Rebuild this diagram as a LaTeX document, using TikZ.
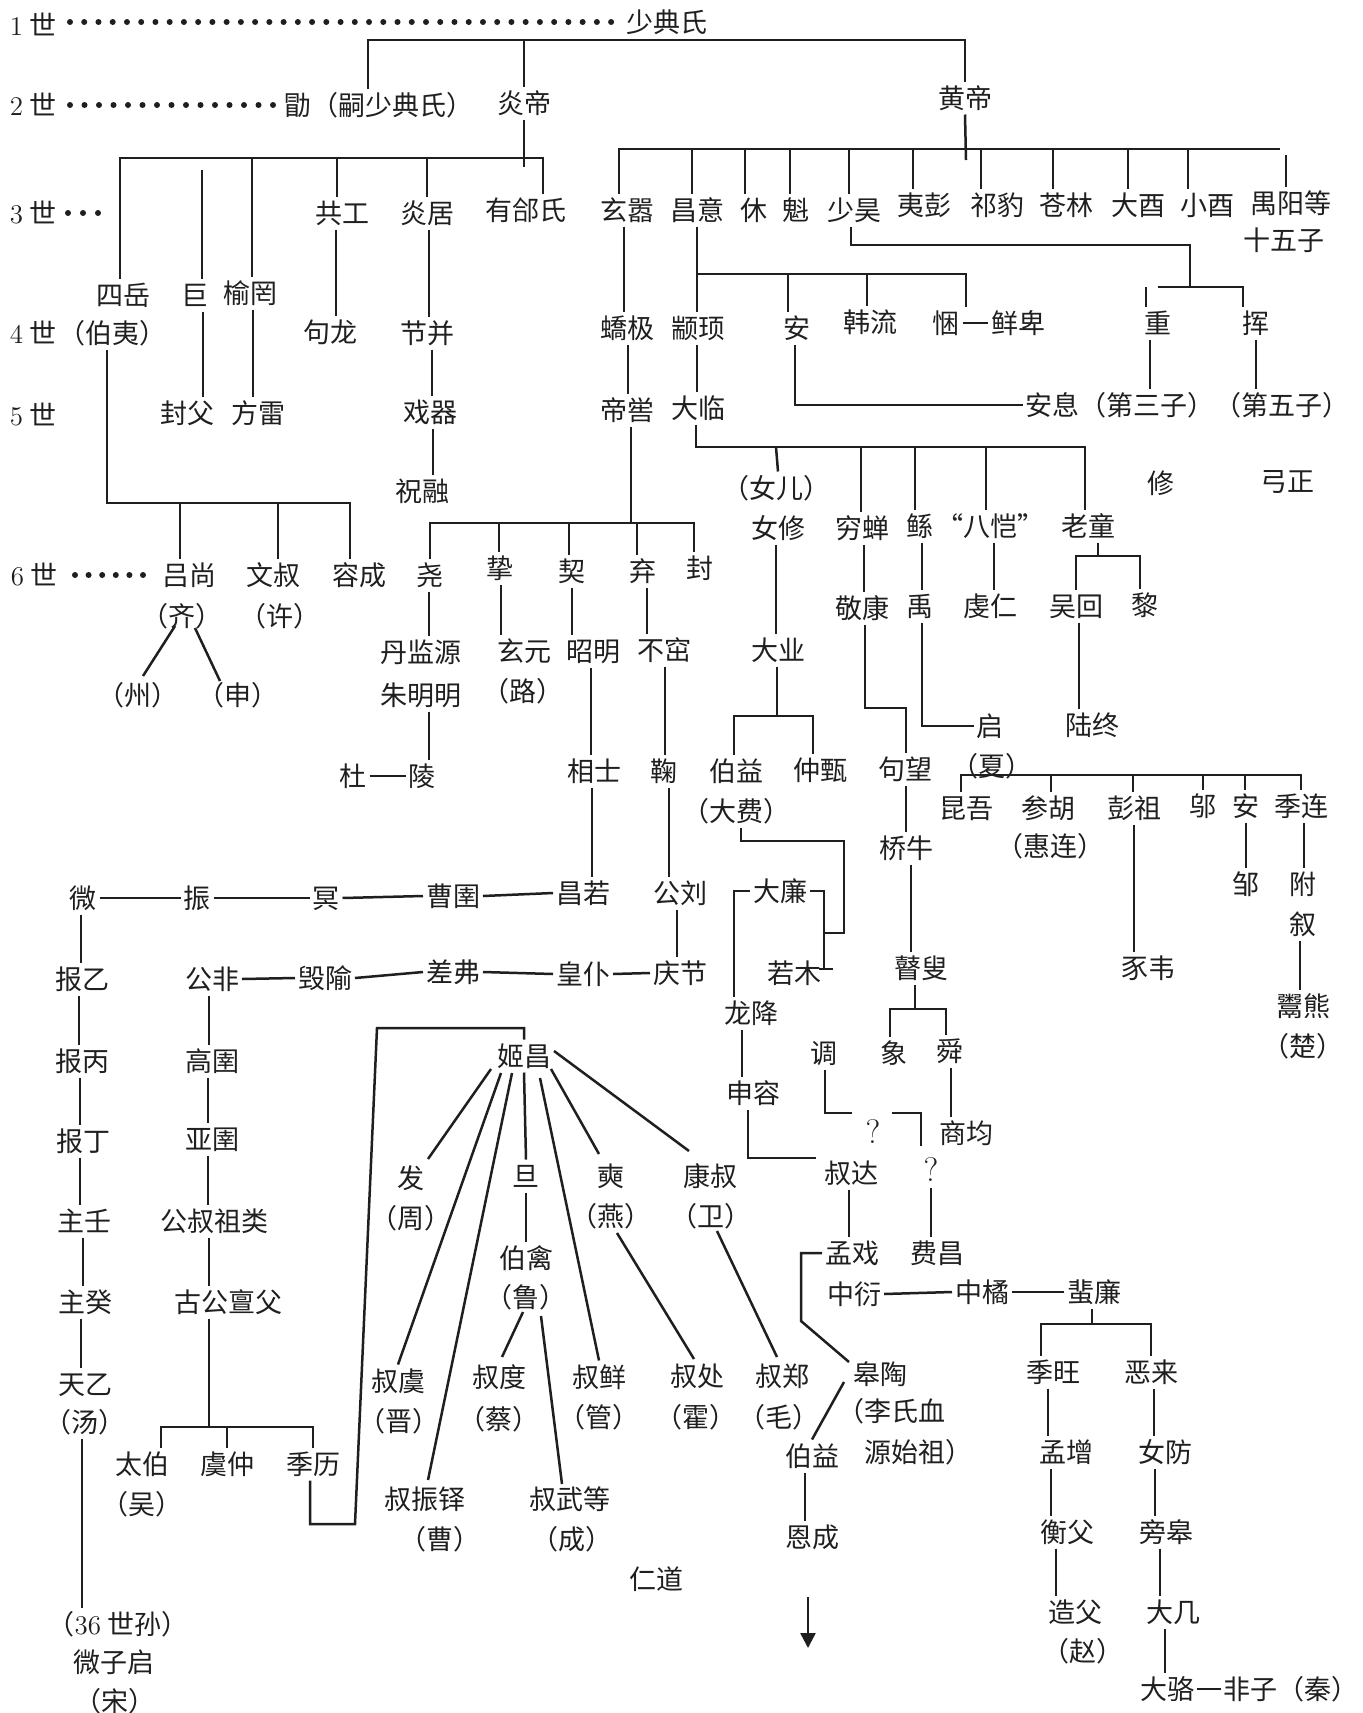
\documentclass[tikz,border=0pt]{standalone}
\usepackage{fontspec}
\newfontfamily\cjk{Noto Sans CJK SC}
\usetikzlibrary{calc,arrows.meta}
\newcommand\vv[3]{\draw (#1.south -| #3,0) -- (#2.north -| #3,0);}
\newcommand\hh[2]{\draw (#1.east) -- (#2.west);}
\newcommand\tk[3]{\draw (#2,#3) -- (#1.north -| #2,0);}
\begin{document}
\begin{tikzpicture}[x=0.5pt,y=-0.5pt,line width=1.25pt,color=black!88,
  nd/.style={inner sep=0pt,outer sep=1.5pt,font=\cjk\fontsize{13.5}{15}\selectfont,text height=11.9pt,text depth=1.6pt}]
\fill[white] (0,0) rectangle (1363,1713);
\useasboundingbox (0,0) rectangle (1363,1713);
% generation labels
\node[nd] (g1) at (33,25) {\textrm{1} 世};
\node[nd] (g2) at (33,105) {\textrm{2} 世};
\node[nd] (g3) at (33,213) {\textrm{3} 世};
\node[nd] (g4) at (33,333) {\textrm{4} 世};
\node[nd] (g5) at (33,415) {\textrm{5} 世};
\node[nd] (g6) at (34,575) {\textrm{6} 世};
\foreach \i in {0,...,38} \fill (70+\i*14.24,22) circle[radius=1.5pt];
\foreach \i in {0,...,14} \fill (70+\i*14.5,105) circle[radius=1.5pt];
\foreach \i in {0,1,2} \fill (68+\i*15,213) circle[radius=1.5pt];
\foreach \i in {0,...,5} \fill (75+\i*13.6,575) circle[radius=1.5pt];
% nodes
\node[nd] (boyi) at (112,333) {（伯夷）};
\node[nd] (shaodian) at (667,22) {少典氏};
\node[nd] (xu) at (379,105) {勖（嗣少典氏）};
\node[nd] (yandi) at (524,103) {炎帝};
\node[nd] (huangdi) at (965,98) {黄帝};
\node[nd] (siyue) at (123,295) {四岳};
\node[nd] (ju) at (195,295) {巨};
\node[nd] (yuwang) at (250,293) {榆罔};
\node[nd] (gonggong) at (342,213) {共工};
\node[nd] (yanju) at (427,213) {炎居};
\node[nd] (youtai) at (526,210) {有郃氏};
\node[nd] (goulong) at (330,332) {句龙};
\node[nd] (jiebing) at (427,333) {节并};
\node[nd] (fengfu) at (187,413) {封父};
\node[nd] (fanglei) at (258,413) {方雷};
\node[nd] (xiqi) at (430,412) {戏器};
\node[nd] (zhurong) at (422,491) {祝融};
\node[nd] (xuanxiao) at (627,210) {玄嚣};
\node[nd] (changyi) at (697,210) {昌意};
\node[nd] (xiuA) at (754,210) {休};
\node[nd] (kui) at (796,210) {魁};
\node[nd] (shaohao) at (854,210) {少昊};
\node[nd] (yipeng) at (924,205) {夷彭};
\node[nd] (qibao) at (997,205) {祁豹};
\node[nd] (canglin) at (1066,205) {苍林};
\node[nd] (dayou) at (1138,205) {大酉};
\node[nd] (xiaoyou) at (1207,205) {小酉};
\node[nd] (yuyang) at (1291,203) {禺阳等};
\node[nd] (shiwuzi) at (1284,240) {十五子};
\node[nd] (jiaoji) at (627,328) {蟜极};
\node[nd] (zhuanxu) at (698,328) {颛顼};
\node[nd] (anA) at (797,328) {安};
\node[nd] (hanliu) at (870,322) {韩流};
\node[nd] (kun) at (946,323) {悃};
\node[nd] (xianbei) at (1018,323) {鲜卑};
\node[nd] (zhong) at (1158,323) {重};
\node[nd] (hui) at (1256,323) {挥};
\node[nd] (diku) at (627,410) {帝喾};
\node[nd] (dalin) at (698,408) {大临};
\node[nd] (anxi) at (1120,405) {安息（第三子）};
\node[nd] (diwuzi) at (1282,405) {（第五子）};
\node[nd] (xiuB) at (1161,483) {修};
\node[nd] (gongzheng) at (1287,481) {弓正};
\node[nd] (nuer) at (776,488) {（女儿）};
\node[nd] (nvxiu) at (778,528) {女修};
\node[nd] (qiongchan) at (862,528) {穷蝉};
\node[nd] (gun) at (920,526) {鲧};
\node[nd] (bakai) at (990,526) {“八恺”};
\node[nd] (laotong) at (1088,526) {老童};
\node[nd] (lushang) at (189,575) {吕尚};
\node[nd] (wenshu) at (273,575) {文叔};
\node[nd] (rongcheng) at (359,575) {容成};
\node[nd] (yao) at (430,575) {尧};
\node[nd] (zhi) at (500,568) {挚};
\node[nd] (qiA) at (572,571) {契};
\node[nd] (qiB) at (643,571) {弃};
\node[nd] (feng) at (700,568) {封};
\node[nd] (qiparen) at (182,616) {（齐）};
\node[nd] (xuparen) at (280,616) {（许）};
\node[nd] (zhou) at (138,695) {（州）};
\node[nd] (shen) at (238,695) {（申）};
\node[nd] (danjianyuan) at (421,652) {丹监源};
\node[nd] (zhumingming) at (421,695) {朱明明};
\node[nd] (du) at (353,776) {杜};
\node[nd] (ling) at (422,776) {陵};
\node[nd] (xuanyuan) at (524,651) {玄元};
\node[nd] (luA) at (523,691) {（路）};
\node[nd] (zhaoming) at (593,651) {昭明};
\node[nd] (buzhu) at (664,650) {不窋};
\node[nd] (xiangshi) at (594,771) {相士};
\node[nd] (juB) at (664,771) {鞠};
\node[nd] (daye) at (778,650) {大业};
\node[nd] (jingkang) at (862,608) {敬康};
\node[nd] (yu) at (920,606) {禹};
\node[nd] (qianren) at (990,606) {虔仁};
\node[nd] (wuhui) at (1076,606) {吴回};
\node[nd] (li) at (1145,605) {黎};
\node[nd] (luzhong) at (1092,725) {陆终};
\node[nd] (qiC) at (990,726) {启};
\node[nd] (xia) at (992,766) {（夏）};
\node[nd] (boyiB) at (736,771) {伯益};
\node[nd] (dafei) at (736,811) {（大费）};
\node[nd] (zhongzhen) at (820,770) {仲甄};
\node[nd] (gouwang) at (905,769) {句望};
\node[nd] (kunwu) at (966,808) {昆吾};
\node[nd] (canhu) at (1048,808) {参胡};
\node[nd] (huilian) at (1050,846) {（惠连）};
\node[nd] (pengzu) at (1134,808) {彭祖};
\node[nd] (wu) at (1203,806) {邬};
\node[nd] (anB) at (1246,806) {安};
\node[nd] (jilian) at (1301,806) {季连};
\node[nd] (qiaoniu) at (906,848) {桥牛};
\node[nd] (zou) at (1246,884) {邹};
\node[nd] (fu) at (1303,884) {附};
\node[nd] (xuB) at (1303,924) {叙};
\node[nd] (shiwei) at (1148,968) {豕韦};
\node[nd] (yuxiong) at (1303,1006) {鬻熊};
\node[nd] (chu) at (1303,1046) {（楚）};
\node[nd] (gusou) at (921,968) {瞽叟};
\node[nd] (xiang) at (894,1053) {象};
\node[nd] (shun) at (950,1051) {舜};
\node[nd] (diao) at (824,1053) {调};
\node[nd] (shangjun) at (966,1133) {商均};
\node[nd] (qA) at (873,1133) {\textrm{\fontsize{17}{17}\selectfont ?}};
\node[nd] (qB) at (931,1171) {\textrm{\fontsize{17}{17}\selectfont ?}};
\node[nd] (feichang) at (937,1253) {费昌};
\node[nd] (changruo) at (583,893) {昌若};
\node[nd] (gongliu) at (680,893) {公刘};
\node[nd] (qingjie) at (680,973) {庆节};
\node[nd] (dalian) at (780,891) {大廉};
\node[nd] (ruomu) at (794,973) {若木};
\node[nd] (longjiang) at (751,1013) {龙降};
\node[nd] (shenrong) at (753,1093) {申容};
\node[nd] (shuda) at (851,1173) {叔达};
\node[nd] (mengxi) at (852,1253) {孟戏};
\node[nd] (zhongyan) at (854,1294) {中衍};
\node[nd] (zhongju) at (982,1292) {中橘};
\node[nd] (feilian) at (1094,1292) {蜚廉};
\node[nd] (gaotao) at (880,1374) {皋陶};
\node[nd] (lishi) at (891,1411) {（李氏血};
\node[nd] (yuanshizu) at (918,1452) {源始祖）};
\node[nd] (boyiC) at (812,1456) {伯益};
\node[nd] (encheng) at (812,1537) {恩成};
\node[nd] (rendao) at (656,1579) {仁道};
\node[nd] (jiwang) at (1053,1372) {季旺};
\node[nd] (elai) at (1151,1372) {恶来};
\node[nd] (mengzeng) at (1066,1452) {孟增};
\node[nd] (nvfang) at (1165,1452) {女防};
\node[nd] (hengfu) at (1067,1532) {衡父};
\node[nd] (panggao) at (1166,1532) {旁皋};
\node[nd] (zaofu) at (1075,1612) {造父};
\node[nd] (zhao) at (1083,1651) {（赵）};
\node[nd] (daji) at (1173,1612) {大几};
\node[nd] (daluo) at (1167,1689) {大骆};
\node[nd] (feizi) at (1291,1689) {非子（秦）};
\node[nd] (wei) at (83,898) {微};
\node[nd] (zhen) at (197,898) {振};
\node[nd] (ming) at (326,898) {冥};
\node[nd] (caoyu) at (453,896) {曹圉};
\node[nd] (baoyi) at (82,979) {报乙};
\node[nd] (baobing) at (82,1061) {报丙};
\node[nd] (baoding) at (83,1141) {报丁};
\node[nd] (zhuren) at (84,1221) {主壬};
\node[nd] (zhugui) at (85,1302) {主癸};
\node[nd] (tianyi) at (85,1384) {天乙};
\node[nd] (tang) at (85,1422) {（汤）};
\node[nd] (sunshi) at (118,1624) {（\textrm{36} 世孙）};
\node[nd] (weiziqi) at (114,1662) {微子启};
\node[nd] (song) at (115,1701) {（宋）};
\node[nd] (gongfei) at (212,979) {公非};
\node[nd] (huiyu) at (325,978) {毁隃};
\node[nd] (chafu) at (453,972) {差弗};
\node[nd] (huangpu) at (583,974) {皇仆};
\node[nd] (gaoyu) at (212,1061) {高圉};
\node[nd] (yayu) at (212,1139) {亚圉};
\node[nd] (gongshu) at (214,1221) {公叔祖类};
\node[nd] (gugong) at (228,1302) {古公亶父};
\node[nd] (taibo) at (142,1464) {太伯};
\node[nd] (wuB) at (142,1504) {（吴）};
\node[nd] (yuzhong) at (227,1464) {虞仲};
\node[nd] (jili) at (313,1464) {季历};
\node[nd] (jichang) at (524,1056) {姬昌};
\node[nd] (fa) at (411,1178) {发};
\node[nd] (zhouB) at (411,1218) {（周）};
\node[nd] (dan) at (526,1176) {旦};
\node[nd] (shi) at (611,1176) {奭};
\node[nd] (yan) at (611,1216) {（燕）};
\node[nd] (kangshu) at (710,1176) {康叔};
\node[nd] (weiB) at (711,1216) {（卫）};
\node[nd] (boqin) at (526,1258) {伯禽};
\node[nd] (luB) at (526,1297) {（鲁）};
\node[nd] (shuyu) at (398,1381) {叔虞};
\node[nd] (jin) at (399,1421) {（晋）};
\node[nd] (shuzhenduo) at (425,1499) {叔振铎};
\node[nd] (cao) at (440,1539) {（曹）};
\node[nd] (shudu) at (499,1377) {叔度};
\node[nd] (cai) at (499,1419) {（蔡）};
\node[nd] (shuxian) at (599,1377) {叔鲜};
\node[nd] (guan) at (599,1417) {（管）};
\node[nd] (shuchu) at (697,1376) {叔处};
\node[nd] (huo) at (696,1417) {（霍）};
\node[nd] (shuzheng) at (782,1376) {叔郑};
\node[nd] (mao) at (779,1417) {（毛）};
\node[nd] (shuwu) at (570,1499) {叔武等};
\node[nd] (cheng) at (572,1539) {（成）};
% top brackets
\draw (xu.north -| 368,0) -- (368,40) -- (965,40) -- (huangdi.north);
\draw (shaodian.south) -- (shaodian.south |- 0,40);
\draw (yandi.north) -- (yandi.north |- 0,40);
% Yandi
\draw (yandi.south) -- (524,167);
\draw (siyue.north -| 120,0) -- (120,158) -- (543,158) -- (youtai.north -| 543,0);
\tk{yuwang}{252}{158}
\tk{gonggong}{337}{158}
\tk{yanju}{427}{158}
\draw (202,170) -- (ju.north -| 202,0);
% Huangdi
\draw (huangdi.south) -- (966,160);
\draw (xuanxiao.north -| 619,0) -- (619,149) -- (1280,149);
\tk{changyi}{692}{149}
\tk{xiuA}{745}{149}
\tk{kui}{790}{149}
\tk{shaohao}{849}{149}
\tk{yipeng}{913}{149}
\tk{qibao}{981}{149}
\tk{canglin}{1053}{149}
\tk{dayou}{1128}{149}
\tk{xiaoyou}{1188}{149}
\draw (1286,155) -- (yuyang.north -| 1286,0);
% Shaohao
\draw (shaohao.south -| 851,0) -- (851,245) -- (1190,245) -- (1190,287);
\draw (1158,287) -- (1243,287) -- (hui.north -| 1243,0);
\draw (1146,287) -- (zhong.north -| 1146,0);
% Changyi
\draw (697,274) -- (966,274) -- (kun.north -| 966,0);
\tk{anA}{788}{274}
\tk{hanliu}{867}{274}
\draw (anA.south -| 795,0) -- (795,405) -- (anxi.west);
\hh{kun}{xianbei}
% verticals
\vv{gonggong}{goulong}{336}
\vv{yanju}{jiebing}{429}
\vv{jiebing}{xiqi}{432}
\vv{xiqi}{zhurong}{433}
\vv{ju}{fengfu}{203}
\vv{yuwang}{fanglei}{253}
\vv{xuanxiao}{jiaoji}{624}
\vv{jiaoji}{diku}{628}
\vv{changyi}{zhuanxu}{697}
\vv{zhuanxu}{dalin}{697}
\vv{zhong}{anxi}{1150}
\vv{hui}{diwuzi}{1256}
% Dalin
\draw (dalin.south -| 696,0) -- (696,447) -- (1085,447) -- (laotong.north -| 1085,0);
\draw (776,447) -- (nuer.north -| 778,0);
\tk{qiongchan}{861}{447}
\tk{gun}{915}{447}
\tk{bakai}{986}{447}
% Diku
\draw (diku.south -| 631,0) -- (631,523);
\draw (yao.north -| 430,0) -- (430,523) -- (694,523) -- (feng.north -| 694,0);
\tk{zhi}{499}{523}
\tk{qiA}{569}{523}
\tk{qiB}{637}{523}
% Siyue
\draw (boyi.south -| 107,0) -- (107,503) -- (350,503) -- (rongcheng.north -| 350,0);
\tk{lushang}{180}{503}
\tk{wenshu}{278}{503}
\draw ($(qiparen)+(-7,10)$) -- ($(zhou)+(5,-19)$);
\draw ($(qiparen)+(13,12)$) -- ($(shen)+(-18,-14)$);
% Ku's line
\vv{yao}{danjianyuan}{429}
\vv{zhumingming}{ling}{429}
\hh{du}{ling}
\vv{zhi}{xuanyuan}{501}
\vv{qiA}{zhaoming}{572}
\vv{zhaoming}{xiangshi}{591}
\vv{qiB}{buzhu}{647}
\vv{buzhu}{juB}{665}
\vv{juB}{gongliu}{669}
\vv{xiangshi}{changruo}{592}
\vv{gongliu}{qingjie}{677}
% Nvxiu line
\vv{nvxiu}{daye}{776}
\draw (daye.south -| 777,0) -- (777,716);
\draw (boyiB.north -| 734,0) -- (734,716) -- (813,716) -- (zhongzhen.north -| 813,0);
\draw (dafei.south -| 741,0) -- (741,841) -- (844,841) -- (844,933) -- (824,933);
\draw (dalian.east) -- (dalian.east -| 824,0) -- (824,969);
\draw ($(ruomu.east)+(-5,-4)$) -- ++(14,0);
\draw (dalian.west) -- (dalian.west -| 734,0) -- (longjiang.north -| 734,0);
\vv{longjiang}{shenrong}{742}
\draw (shenrong.south -| 748,0) -- (748,1158) -- (816,1158);
\vv{shuda}{mengxi}{849}
\draw (mengxi.west) -- (mengxi.west -| 801,0) -- (801,1321) -- ($(gaotao)+(-31,-12)$);
\hh{zhongyan}{zhongju}
\hh{zhongju}{feilian}
\draw ($(gaotao)+(-36,8)$) -- (boyiC.north);
\vv{boyiC}{encheng}{805}
\coordinate (arrs) at (808,1597);
\coordinate (arre) at (808,1648);
\draw[-{Triangle[length=7.5pt,width=7.5pt]}] (arrs) -- (arre);
% Feilian
\draw (feilian.south -| 1092,0) -- (1092,1324);
\draw (jiwang.north -| 1041,0) -- (1041,1324) -- (1151,1324) -- (elai.north -| 1151,0);
\vv{jiwang}{mengzeng}{1048}
\vv{elai}{nvfang}{1154}
\vv{mengzeng}{hengfu}{1051}
\vv{nvfang}{panggao}{1155}
\vv{hengfu}{zaofu}{1056}
\vv{panggao}{daji}{1160}
\vv{daji}{daluo}{1165}
\hh{daluo}{feizi}
% Qiongchan line
\vv{qiongchan}{jingkang}{864}
\draw (jingkang.south -| 865,0) -- (865,708) -- (906,708) -- (gouwang.north -| 906,0);
\vv{gun}{yu}{922}
\draw (yu.south -| 922,0) -- (qiC.west -| 922,0) -- (qiC.west);
\vv{bakai}{qianren}{994}
\draw (laotong.south -| 1098,0) -- (1098,556);
\draw (wuhui.north -| 1076,0) -- (1076,556) -- (1140,556) -- (li.north -| 1140,0);
\vv{wuhui}{luzhong}{1079}
\draw (kunwu.north -| 961,0) -- (961,775) -- (1301,775) -- (jilian.north -| 1301,0);
\tk{canhu}{1051}{775}
\tk{pengzu}{1133}{775}
\tk{wu}{1203}{775}
\tk{anB}{1245}{775}
\vv{pengzu}{shiwei}{1134}
\vv{anB}{zou}{1246}
\vv{jilian}{fu}{1304}
\vv{xuB}{yuxiong}{1300}
\vv{gouwang}{qiaoniu}{906}
\vv{qiaoniu}{gusou}{911}
\draw (gusou.south -| 915,0) -- (915,1009);
\draw (xiang.north -| 890,0) -- (890,1009) -- (946,1009) -- (shun.north -| 946,0);
\vv{shun}{shangjun}{951}
\draw (diao.south -| 825,0) -- (825,1113) -- ($(qA)+(-21,-20)$);
\draw ($(qB)+(-39,-58)$) -- ($(qB)+(-10,-58)$) -- ($(qB)+(-10,-25)$);
\vv{qB}{feichang}{931}
% Shang chain
\hh{wei}{zhen}
\hh{zhen}{ming}
\hh{ming}{caoyu}
\hh{caoyu}{changruo}
\vv{wei}{baoyi}{81}
\vv{baoyi}{baobing}{79}
\vv{baobing}{baoding}{80}
\vv{baoding}{zhuren}{80}
\vv{zhuren}{zhugui}{83}
\vv{zhugui}{tianyi}{81}
\vv{tang}{sunshi}{82}
% Zhou chain
\hh{gongfei}{huiyu}
\hh{huiyu}{chafu}
\hh{chafu}{huangpu}
\hh{huangpu}{qingjie}
\vv{gongfei}{gaoyu}{209}
\vv{gaoyu}{yayu}{208}
\vv{yayu}{gongshu}{208}
\vv{gongshu}{gugong}{209}
\draw (gugong.south -| 209,0) -- (209,1427);
\draw (taibo.north -| 161,0) -- (161,1427) -- (313,1427) -- (jili.north -| 313,0);
\tk{yuzhong}{227}{1427}
\draw (jili.south -| 310,0) -- (310,1524) -- (355,1524) -- (377,1028) -- (524,1028) -- (jichang.north);
% Jichang spokes
\draw ($(jichang)+(-33,13)$) -- ($(fa)+(17,-19)$);
\draw ($(jichang)+(-23,17)$) -- (shuyu.north);
\draw ($(jichang)+(-12,17)$) -- ($(shuzhenduo)+(3,-19)$);
\draw (jichang.south) -- (dan.north);
\draw ($(jichang)+(16,22)$) -- (shuxian.north);
\draw ($(jichang)+(27,13)$) -- ($(shi)+(-12,-22)$);
\draw ($(jichang)+(30,-5)$) -- ($(kangshu)+(-21,-25)$);
\vv{dan}{boqin}{526}
\draw ($(luB)+(-3,15)$) -- ($(shudu)+(3,-20)$);
\draw ($(luB)+(15,19)$) -- ($(shuwu)+(-8,-15)$);
\draw ($(yan)+(6,17)$) -- ($(shuchu)+(-3,-17)$);
\draw ($(weiB)+(6,15)$) -- ($(shuzheng)+(-5,-19)$);
\end{tikzpicture}
\end{document}
